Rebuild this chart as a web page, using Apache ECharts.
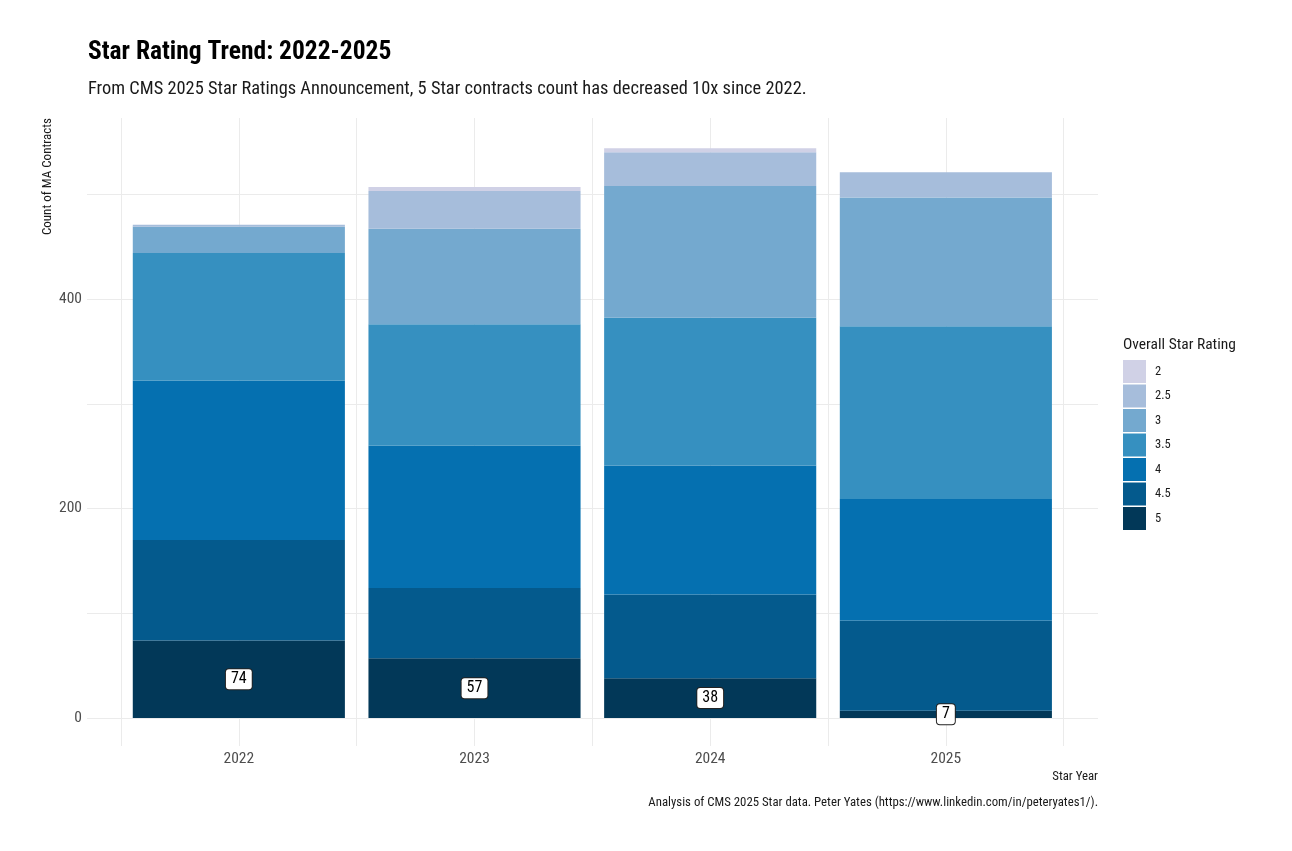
<!DOCTYPE html>
<html>
<head>
<meta charset="utf-8">
<script src="https://cdn.jsdelivr.net/npm/echarts@6/dist/echarts.min.js"></script>
<style>
html,body{margin:0;padding:0;background:#fff;}
#chart{width:1292px;height:851px;}
</style>
</head>
<body>
<div id="chart"></div>
<script>
// ---- data ----
const years = ['2022', '2023', '2024', '2025'];
const ratings = ['5', '4.5', '4', '3.5', '3', '2.5', '2']; // stacking order, bottom to top
const legendOrder = ['2', '2.5', '3', '3.5', '4', '4.5', '5'];
const star5   = [74, 57, 38, 7];
const star4_5 = [96, 67, 80, 86];
const star4   = [152, 136, 123, 116];
const star3_5 = [122, 116, 141, 165];
const star3   = [25, 91, 126, 123];
const star2_5 = [2, 36, 32, 24];
const star2   = [0, 4, 4, 0];
const yTicks = [0, 200, 400];
const gridSteps = ['a', 'b', 'c', 'd', 'e', 'f', 'g', 'h', 'i']; // half-category steps for vertical grid lines

const seriesValues = [star5, star4_5, star4, star3_5, star3, star2_5, star2];
const colors = {
  '2': '#d0d1e6', '2.5': '#a6bddb', '3': '#74a9cf', '3.5': '#3690c0',
  '4': '#0570b0', '4.5': '#045a8d', '5': '#023858'
};

const FONT = '"Roboto Condensed", "Liberation Sans Narrow", Roboto, sans-serif';
const YMAX = 572.8;

const chart = echarts.init(document.getElementById('chart'), null, {renderer: 'canvas'});

const series = ratings.map((r, i) => ({
  name: r,
  type: 'bar',
  stack: 'total',
  xAxisIndex: 0,
  yAxisIndex: 0,
  barWidth: '90%',
  data: seriesValues[i],
  itemStyle: {color: colors[r]},
  emphasis: {disabled: true},
  label: r === '5' ? {
    show: true,
    position: 'inside',
    color: '#000',
    fontFamily: FONT,
    fontSize: 16,
    backgroundColor: '#fff',
    borderColor: '#222',
    borderWidth: 1,
    borderRadius: 3,
    padding: [3, 5, 1, 5]
  } : {show: false}
}));

series.push({type: 'bar', xAxisIndex: 1, yAxisIndex: 1, data: [], silent: true});
series.push({type: 'line', xAxisIndex: 2, yAxisIndex: 2, data: [], silent: true});

const option = {
  animation: false,
  backgroundColor: '#fff',
  color: ratings.map(r => colors[r]),
  title: [
    {
      text: 'Star Rating Trend: 2022-2025',
      left: 83, top: 35,
      textStyle: {fontFamily: FONT, fontSize: 25.5, fontWeight: 'bold', color: '#000'}
    },
    {
      text: 'From CMS 2025 Star Ratings Announcement, 5 Star contracts count has decreased 10x since 2022.',
      left: 83, top: 75,
      textStyle: {fontFamily: FONT, fontSize: 18.4, fontWeight: 'normal', color: '#1a1a1a'}
    },
    {
      text: 'Overall Star Rating',
      left: 1118, top: 332,
      textStyle: {fontFamily: FONT, fontSize: 15.5, fontWeight: 'normal', color: '#1a1a1a'}
    },
    {
      text: 'Star Year',
      right: 189, top: 765,
      textStyle: {fontFamily: FONT, fontSize: 12.8, fontWeight: 'normal', color: '#1a1a1a'}
    },
    {
      text: 'Analysis of CMS 2025 Star data. Peter Yates (https://www.linkedin.com/in/peteryates1/).',
      right: 189, top: 791,
      textStyle: {fontFamily: FONT, fontSize: 12.8, fontWeight: 'normal', color: '#1a1a1a'}
    }
  ],
  legend: {
    data: legendOrder,
    orient: 'vertical',
    left: 1118, top: 355,
    itemWidth: 23, itemHeight: 23,
    itemGap: 1.5,
    icon: 'rect',
    selectedMode: false,
    itemStyle: {borderWidth: 0},
    textStyle: {fontFamily: FONT, fontSize: 12.5, color: '#1a1a1a', padding: [0, 0, 0, 4]}
  },
  graphic: [{
    type: 'text',
    x: 48, y: 118,
    rotation: Math.PI / 2,
    style: {
      text: 'Count of MA Contracts',
      fontFamily: FONT, fontSize: 13, fill: '#1a1a1a',
      textAlign: 'right', textVerticalAlign: 'middle'
    }
  }],
  grid: [
    {left: 121, right: 228.3, top: 118, bottom: 133, containLabel: false},
    {left: 87, right: 194, top: 118, bottom: 133, containLabel: false},
    {left: 121, right: 228.3, top: 118, bottom: 105, containLabel: false}
  ],
  xAxis: [
    {
      gridIndex: 0, type: 'category', data: years,
      axisLine: {show: false}, axisTick: {show: false}, splitLine: {show: false},
      axisLabel: {fontFamily: FONT, fontSize: 15.5, color: '#4d4d4d', margin: 33}
    },
    {
      gridIndex: 1, type: 'category', data: years, show: false
    },
    {
      gridIndex: 2, type: 'category', data: gridSteps, boundaryGap: false,
      axisLine: {show: false}, axisTick: {show: false}, axisLabel: {show: false},
      splitLine: {show: true, interval: 0, lineStyle: {color: '#ebebeb', width: 1}}
    }
  ],
  yAxis: [
    {
      gridIndex: 0, type: 'value', min: 0, max: YMAX, interval: 200,
      axisLine: {show: false}, axisTick: {show: false}, splitLine: {show: false},
      axisLabel: {
        fontFamily: FONT, fontSize: 15.5, color: '#4d4d4d', margin: 39,
        showMaxLabel: false,
        formatter: v => (yTicks.indexOf(v) >= 0 ? String(v) : '')
      }
    },
    {
      gridIndex: 1, type: 'value', min: 0, max: YMAX, interval: 100,
      axisLine: {show: false}, axisTick: {show: false}, axisLabel: {show: false},
      splitLine: {show: true, lineStyle: {color: ['#ebebeb', '#ebebeb', '#ebebeb', '#ebebeb', '#ebebeb', '#ebebeb', 'rgba(0,0,0,0)'], width: 1}}
    },
    {
      gridIndex: 2, type: 'value', min: 0, max: 1, show: false
    }
  ],
  series: series
};

option.series.forEach(s => { s.z = (s.xAxisIndex === 0) ? 2 : 0; });
option.xAxis.forEach(a => { a.z = 0; });
option.yAxis.forEach(a => { a.z = 0; });

chart.setOption(option);
</script>
</body>
</html>
